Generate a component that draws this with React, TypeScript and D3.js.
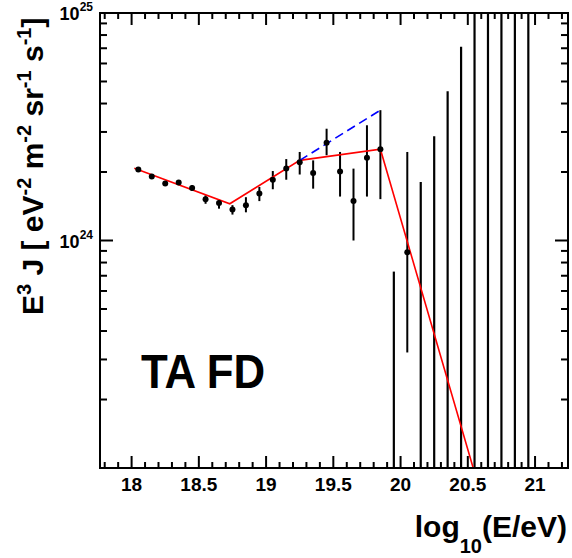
import React from "react";
import * as d3 from "d3";

// Data (J*E^3 in units of 1e24)
const pointE = [18.05, 18.15, 18.25, 18.35, 18.45, 18.55, 18.65, 18.75, 18.85, 18.95, 19.05, 19.15, 19.25, 19.35, 19.45, 19.55, 19.65, 19.75, 19.85, 20.05];
const pointV = [2.05, 1.91, 1.78, 1.80, 1.70, 1.52, 1.46, 1.37, 1.43, 1.61, 1.85, 2.07, 2.21, 1.98, 2.69, 2.01, 1.49, 2.31, 2.52, 0.887];
const pointHi = [2.09, 1.95, 1.82, 1.84, 1.75, 1.58, 1.51, 1.43, 1.55, 1.72, 2.02, 2.28, 2.45, 2.25, 3.10, 2.45, 2.07, 3.21, 3.74, 2.45];
const pointLo = [2.01, 1.87, 1.74, 1.76, 1.65, 1.45, 1.38, 1.30, 1.33, 1.49, 1.68, 1.85, 1.95, 1.69, 2.37, 1.56, 1.00, 1.56, 1.52, 0.322];

// Upper-limit-style bars (no measured point, bar reaches the axis floor)
const limitE = [19.95, 20.15, 20.25, 20.35, 20.45, 20.55, 20.65, 20.75, 20.85, 20.95];
const limitHi = [0.73, 1.81, 2.87, 4.53, 7.1, 20, 20, 20, 20, 20];

// Broken power-law fit (red) and extrapolation (blue dashed)
const fitE = [18.02, 18.73, 19.25, 19.85, 20.54];
const fitV = [2.08, 1.45, 2.25, 2.52, 0.1];
const extE = [19.25, 19.85];
const extV = [2.25, 3.74];

const xTicks = [18, 18.5, 19, 19.5, 20, 20.5, 21];
const xTickLabels = ["18", "18.5", "19", "19.5", "20", "20.5", "21"];
const yLabelExps = [24, 25];

const W = 572, H = 558;
const L = 100, R = 568, T = 13, B = 468;

export default function App() {
  const x = d3.scaleLinear().domain([17.765, 21.245]).range([L, R]);
  const y = d3.scaleLog().domain([1e23, 1e25]).range([B, T]);
  const yv = (v: number) => y(v * 1e24);

  const minorX = d3.range(17.8, 21.25, 0.1).map((v) => Math.round(v * 10) / 10);
  const majorSet = new Set(xTicks.map((v) => v.toFixed(1)));
  const yMinor: number[] = [];
  for (const dec of [1e23, 1e24]) for (let k = 1; k <= 9; k++) yMinor.push(k * dec);
  yMinor.push(1e25);

  const line = d3.line<[number, number]>().x((d) => x(d[0])).y((d) => yv(d[1]));
  const fitPts = fitE.map((e, i) => [e, fitV[i]] as [number, number]);
  const extPts = extE.map((e, i) => [e, extV[i]] as [number, number]);

  const font = "'Liberation Sans', Arial, Helvetica, sans-serif";

  return (
    <svg width={W} height={H} style={{ position: "absolute", left: 0, top: 0, background: "#fff" }} fontFamily={font}>
      <defs>
        <clipPath id="plot">
          <rect x={L} y={T} width={R - L} height={B - T} />
        </clipPath>
      </defs>
      <rect x={0} y={0} width={W} height={H} fill="#fff" />

      {/* x ticks top & bottom */}
      {minorX.map((v) => {
        const major = majorSet.has(v.toFixed(1));
        const len = major ? 12 : 6;
        const px = x(v);
        return (
          <g key={"xt" + v} stroke="#000" strokeWidth={2}>
            <line x1={px} x2={px} y1={B} y2={B - len} />
            <line x1={px} x2={px} y1={T} y2={T + len} />
          </g>
        );
      })}
      {/* y ticks left & right */}
      {yMinor.map((v, i) => {
        const major = Math.abs(Math.log10(v) - Math.round(Math.log10(v))) < 1e-9;
        const len = major ? 13 : 7;
        const py = y(v);
        return (
          <g key={"yt" + i} stroke="#000" strokeWidth={2}>
            <line x1={L} x2={L + len} y1={py} y2={py} />
            <line x1={R} x2={R - len} y1={py} y2={py} />
          </g>
        );
      })}

      <g clipPath="url(#plot)">
        {/* limit bars */}
        {limitE.map((e, i) => (
          <line key={"lb" + i} x1={x(e)} x2={x(e)} y1={yv(limitHi[i])} y2={B + 5} stroke="#000" strokeWidth={2.2} />
        ))}
        {/* error bars */}
        {pointE.map((e, i) => (
          <g key={"eb" + i} stroke="#000" strokeWidth={2}>
            <line x1={x(e)} x2={x(e)} y1={yv(pointHi[i])} y2={yv(pointLo[i])} />
          </g>
        ))}
        {/* fit */}
        <path d={line(fitPts) || ""} fill="none" stroke="#ff0000" strokeWidth={1.6} />
        <path d={line(extPts) || ""} fill="none" stroke="#0000ff" strokeWidth={1.6} strokeDasharray="9,5" />
        {/* points */}
        {pointE.map((e, i) => (
          <circle key={"p" + i} cx={x(e)} cy={yv(pointV[i])} r={3} fill="#000" />
        ))}
      </g>

      {/* frame */}
      <rect x={L} y={T} width={R - L} height={B - T} fill="none" stroke="#000" strokeWidth={2} />

      {/* x tick labels */}
      {xTicks.map((v, i) => (
        <text key={"xl" + i} x={x(v)} y={491} textAnchor="middle" fontSize={19} fontWeight="bold" fill="#000">
          {xTickLabels[i]}
        </text>
      ))}
      {/* y tick labels */}
      {yLabelExps.map((ex) => (
        <text key={"yl" + ex} x={93} y={y(Math.pow(10, ex)) + 7} textAnchor="end" fontSize={18} fontWeight="bold" fill="#000">
          10
          <tspan fontSize={12} dy={-9}>{ex}</tspan>
        </text>
      ))}

      {/* x axis title */}
      <text x={567} y={537} textAnchor="end" fontSize={30} fontWeight="bold" fill="#000">
        log
        <tspan fontSize={20} dy={16}>10</tspan>
        <tspan dy={-16}>(E/eV)</tspan>
      </text>

      {/* y axis title */}
      <text transform="translate(43,315) rotate(-90)" fontSize={30} fontWeight="bold" fill="#000">
        E<tspan fontSize={20} dy={-12}>3</tspan>
        <tspan dy={12}> J [ eV</tspan>
        <tspan fontSize={20} dy={-12}>-2</tspan>
        <tspan dy={12}> m</tspan>
        <tspan fontSize={20} dy={-12}>-2</tspan>
        <tspan dy={12}> sr</tspan>
        <tspan fontSize={20} dy={-12}>-1</tspan>
        <tspan dy={12}> s</tspan>
        <tspan fontSize={20} dy={-12}>-1</tspan>
        <tspan dy={12}>]</tspan>
      </text>

      {/* label */}
      <text x={141} y={388} fontSize={48} fontWeight="bold" fill="#000" textLength={124} lengthAdjust="spacingAndGlyphs">
        TA FD
      </text>
    </svg>
  );
}
